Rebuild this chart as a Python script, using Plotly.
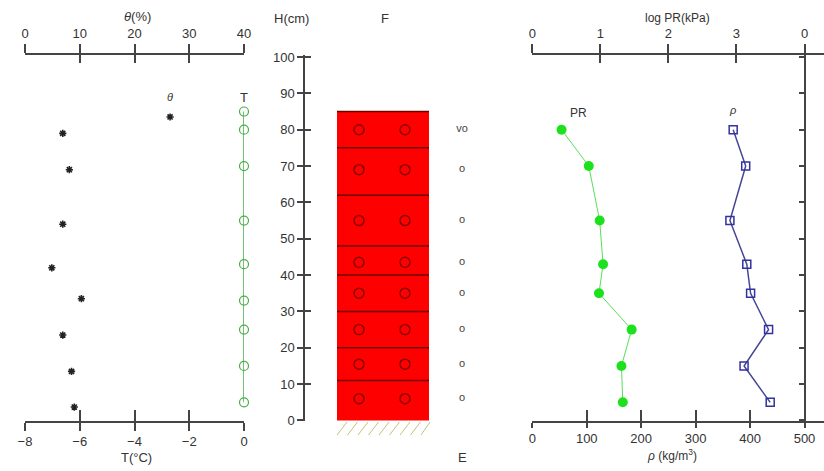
import plotly.graph_objects as go

# ---------------- data ----------------
H_TICKS = [0, 10, 20, 30, 40, 50, 60, 70, 80, 90, 100]
THETA_TICKS = [0, 10, 20, 30, 40]
T_TICKS = [-8, -6, -4, -2, 0]
PR_TICKS = [0, 1, 2, 3]
RHO_TICKS = [0, 100, 200, 300, 400, 500]

THETA = [6.9, 8.1, 6.9, 4.9, 10.3, 6.9, 8.5, 9.0]          # %
THETA_H = [79, 69, 54, 42, 33.5, 23.5, 13.5, 3.7]           # cm

T_VAL = [0, 0, 0, 0, 0, 0, 0, 0, 0]                          # degC
T_H = [85, 80, 70, 55, 43, 33, 25, 15, 5]                    # cm

SAMPLE_H = [80, 70, 55, 43, 35, 25, 15, 5]                   # cm
LOG_PR = [0.43, 0.83, 0.99, 1.04, 0.98, 1.46, 1.31, 1.33]    # log kPa
RHO = [369, 392, 363, 394, 401, 434, 389, 437]               # kg/m3

LAYER_BOUNDS = [0, 11, 20, 30, 40, 48, 62, 75, 85]           # cm
GRAIN_H = [80, 69, 55, 43.5, 35, 25, 15.5, 6]                # cm
GRAIN_SIZE = ["vo", "o", "o", "o", "o", "o", "o", "o"]

LEGEND_THETA = [26.5]
LEGEND_THETA_H = [83.5]

# ---------------- layout helpers ----------------
W, HGT = 824, 471
TOP, BOT = 55, 421


def fx(x):
    return x / W


def fy(y):
    return (BOT - y) / (BOT - TOP)


FONT = "Liberation Sans, Arial, sans-serif"
TXT = "#333333"
AX = "#444444"
tickfont = dict(family=FONT, size=13, color=TXT)
YR = [-0.14, 100.55]

fig = go.Figure()

star = dict(symbol="asterisk-open", size=6, color="#222", line=dict(color="#222", width=1.6))
# theta stars
fig.add_trace(go.Scatter(x=THETA, y=THETA_H, mode="markers", xaxis="x", yaxis="y",
                         marker=star, showlegend=False, hoverinfo="skip", cliponaxis=False))
fig.add_trace(go.Scatter(x=LEGEND_THETA, y=LEGEND_THETA_H, mode="markers", xaxis="x", yaxis="y",
                         marker=star, showlegend=False, hoverinfo="skip", cliponaxis=False))
# temperature
fig.add_trace(go.Scatter(x=T_VAL, y=T_H, mode="lines+markers", xaxis="x2", yaxis="y",
                         line=dict(color="rgb(70,175,70)", width=1.5),
                         marker=dict(symbol="circle-open", size=9, color="rgb(70,175,70)",
                                     line=dict(width=1.2)),
                         showlegend=False, hoverinfo="skip", cliponaxis=False))
# PR
fig.add_trace(go.Scatter(x=LOG_PR, y=SAMPLE_H, mode="lines+markers", xaxis="x3", yaxis="y",
                         line=dict(color="rgb(90,220,90)", width=1),
                         marker=dict(symbol="circle", size=10, color="rgb(30,225,30)"),
                         showlegend=False, hoverinfo="skip", cliponaxis=False))
# density
fig.add_trace(go.Scatter(x=RHO, y=SAMPLE_H, mode="lines+markers", xaxis="x4", yaxis="y",
                         line=dict(color="rgb(70,70,150)", width=1.5),
                         marker=dict(symbol="square-open", size=8, color="rgb(50,50,160)",
                                     line=dict(width=1.5)),
                         showlegend=False, hoverinfo="skip", cliponaxis=False))
# grain shape symbols in layer column
for xp in (359, 405):
    fig.add_trace(go.Scatter(x=[xp] * len(GRAIN_H), y=GRAIN_H, mode="markers", xaxis="x5", yaxis="y",
                             marker=dict(symbol="circle-open", size=10, color="#8a0000",
                                         line=dict(width=1.5)),
                             showlegend=False, hoverinfo="skip"))
# grain size text
fig.add_trace(go.Scatter(x=[462] * len(GRAIN_H), y=GRAIN_H, mode="text", text=GRAIN_SIZE,
                         xaxis="x5", yaxis="y", textfont=dict(family=FONT, size=11, color="#444"),
                         showlegend=False, hoverinfo="skip"))

# dummy traces for auxiliary axes
for xa, ya in [("x6", "y"), ("x7", "y"), ("x8", "y"), ("x9", "y"), ("x10", "y"),
               ("x11", "y"), ("x12", "y"), ("x5", "y2"), ("x5", "y3")]:
    fig.add_trace(go.Scatter(x=[None], y=[None], xaxis=xa, yaxis=ya, mode="markers",
                             showlegend=False, hoverinfo="skip"))

base = dict(showgrid=False, zeroline=False, linecolor=AX, linewidth=1.5, tickcolor=AX,
            tickwidth=1.5, tickfont=tickfont, fixedrange=True, automargin=False)
twin = dict(showgrid=False, zeroline=False, showline=False, showticklabels=False,
            tickcolor=AX, tickwidth=1.5, ticks="inside", fixedrange=True, automargin=False)

d1 = [fx(25), fx(244)]
d3 = [fx(532.3), fx(804.5)]
d6 = [fx(804.5), 1.0]

fig.update_layout(
    width=W, height=HGT,
    margin=dict(l=0, r=0, t=TOP, b=HGT - BOT, pad=0, autoexpand=False),
    paper_bgcolor="white", plot_bgcolor="rgba(0,0,0,0)", showlegend=False,
    # theta (top) and T (bottom)
    xaxis=dict(base, domain=d1, range=[0, 40], side="top", anchor="y", showline=True,
               ticks="outside", ticklen=9, tickvals=THETA_TICKS, ticklabelstandoff=1),
    xaxis8=dict(twin, overlaying="x", range=[0, 40], side="top", anchor="y",
                ticklen=8, tickvals=THETA_TICKS),
    xaxis2=dict(base, overlaying="x", range=[-8, 0], side="bottom", anchor="y", showline=True,
                ticks="outside", ticklen=8, tickvals=T_TICKS),
    xaxis9=dict(twin, overlaying="x", range=[-8, 0], side="bottom", anchor="y",
                ticklen=11, tickvals=T_TICKS),
    # PR (top) and rho (bottom)
    xaxis3=dict(base, domain=d3, range=[0, 4], side="top", anchor="y", showline=True,
                ticks="outside", ticklen=9, tickvals=PR_TICKS, ticklabelstandoff=1),
    xaxis10=dict(twin, overlaying="x3", range=[0, 4], side="top", anchor="y",
                 ticklen=8, tickvals=PR_TICKS),
    xaxis4=dict(base, overlaying="x3", range=[0, 500], side="bottom", anchor="y", showline=True,
                ticks="outside", ticklen=5, tickvals=RHO_TICKS),
    xaxis11=dict(twin, overlaying="x3", range=[0, 500], side="bottom", anchor="y",
                 ticklen=11, tickvals=RHO_TICKS),
    # layer column helper axis (hidden)
    xaxis5=dict(domain=[0, 1], range=[0, W], visible=False, anchor="y", fixedrange=True),
    # right-hand, cut-off panel
    xaxis6=dict(base, domain=d6, range=[0, 10], side="top", anchor="y", showline=True,
                ticks="outside", ticklen=9, tickvals=[0], ticklabelstandoff=1),
    xaxis12=dict(twin, overlaying="x6", range=[0, 10], side="top", anchor="y",
                 ticklen=8, tickvals=[0]),
    xaxis7=dict(base, overlaying="x6", range=[0, 10], side="bottom", anchor="y", showline=True,
                ticks="", showticklabels=False),
    # height axis
    yaxis=dict(base, range=YR, anchor="free", position=fx(304), side="left", showline=True,
               ticks="outside", ticklen=6, tickvals=H_TICKS),
    yaxis2=dict(twin, overlaying="y", range=YR, anchor="free", position=fx(304), side="left",
                ticklen=6, tickvals=H_TICKS),
    yaxis3=dict(base, overlaying="y", range=YR, anchor="free", position=fx(805), side="left",
                showline=True, ticks="outside", ticklen=5, tickvals=H_TICKS, showticklabels=False),
)

# layer column
shapes = []
for i in range(len(LAYER_BOUNDS) - 1):
    shapes.append(dict(type="rect", xref="paper", yref="y", x0=fx(337), x1=fx(429),
                       y0=LAYER_BOUNDS[i], y1=LAYER_BOUNDS[i + 1],
                       fillcolor="#ff0000", line=dict(width=0), layer="below"))
for b in LAYER_BOUNDS[1:]:
    shapes.append(dict(type="line", xref="paper", yref="y", x0=fx(337), x1=fx(429),
                       y0=b, y1=b, line=dict(color="#6e0000", width=1.5), layer="below"))
# ground hatching
for k in range(9):
    x0 = 337 + k * 10.5
    shapes.append(dict(type="line", xref="paper", yref="paper", x0=fx(x0), x1=fx(min(x0 + 10, 430)),
                       y0=fy(435), y1=fy(422), line=dict(color="#c8c078", width=1)))
fig.update_layout(shapes=shapes)


def ann(text, x, y, size=12, color=TXT):
    fig.add_annotation(text=text, x=fx(x), y=fy(y), xref="paper", yref="paper",
                       showarrow=False, xanchor="center", yanchor="middle",
                       font=dict(family=FONT, size=size, color=color))


ann("<i>θ</i>(%)", 137, 16, 13)
ann("T(°C)", 136, 457, 13)
ann("H(cm)", 291, 18, 13)
ann("F", 385, 18, 13)
ann("E", 462, 457, 13)
ann("log PR(kPa)", 677, 18, 12)
ann("<i>ρ</i> (kg/m<sup>3</sup>)", 672, 455, 12)
ann("<i>θ</i>", 170, 97, 11)
ann("T", 244, 97, 13)
ann("PR", 578, 113, 12)
ann("<i>ρ</i>", 732, 110, 11)

fig.write_html("out.html", config={"displayModeBar": False},
               post_script="document.body.style.margin='0';")
